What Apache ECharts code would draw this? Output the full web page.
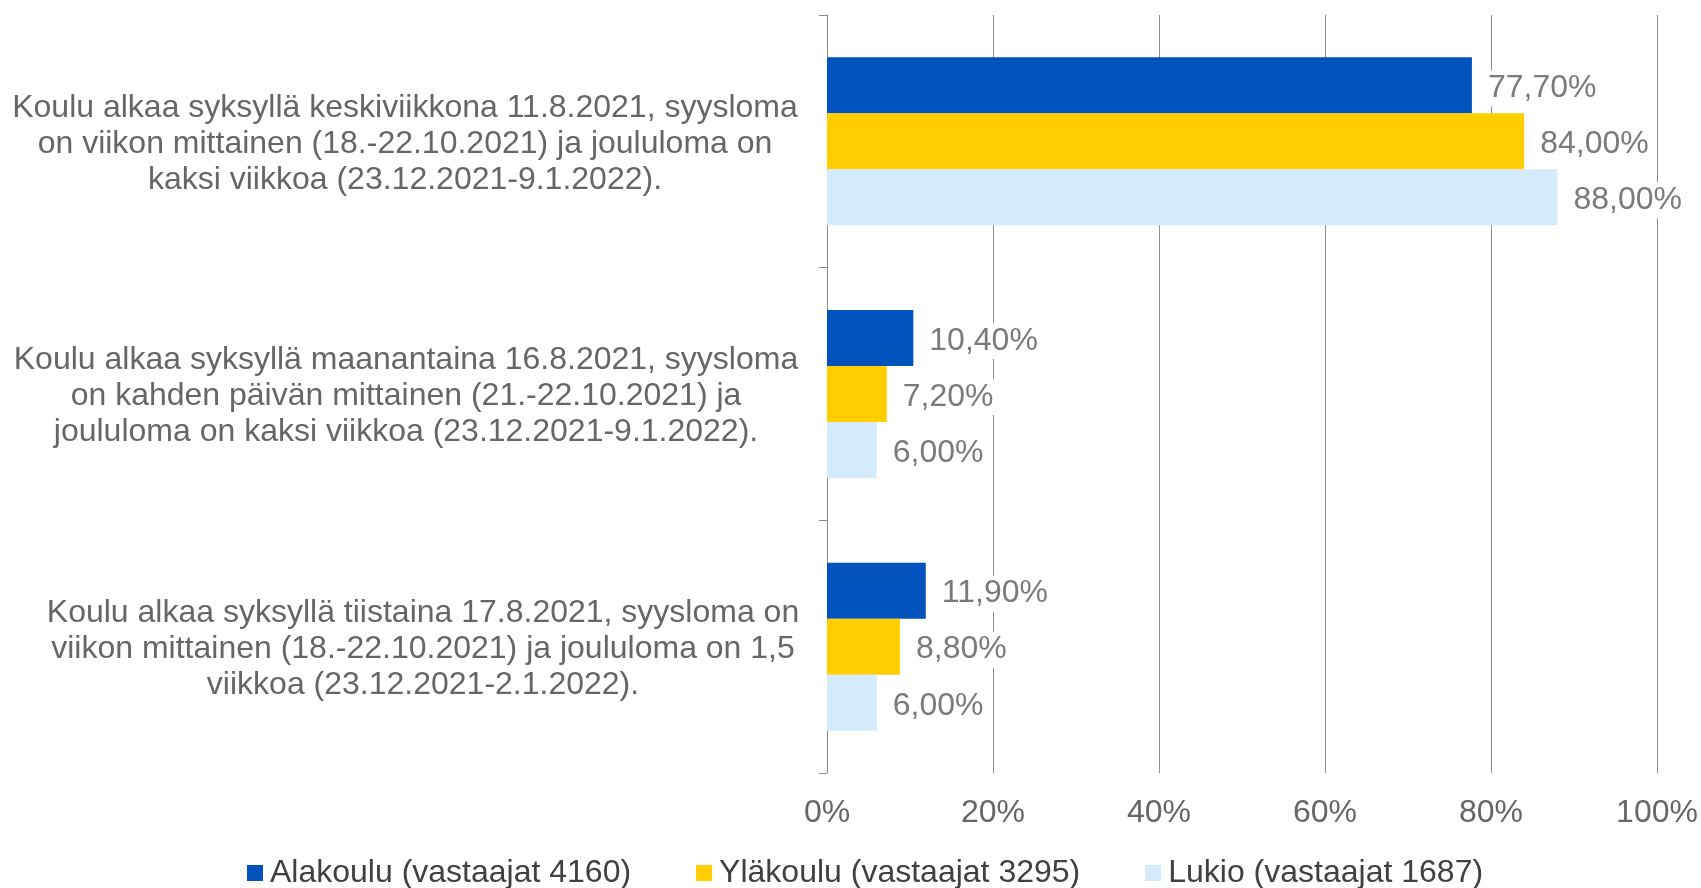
<!DOCTYPE html>
<html><head><meta charset="utf-8">
<script src="https://cdn.jsdelivr.net/npm/echarts@6/dist/echarts.min.js"></script>
<style>html,body{margin:0;padding:0;background:#fff}#c{width:1701px;height:888px}</style>
</head><body><div id="c"></div>
<script>
const categories = [
  "Koulu alkaa syksyllä keskiviikkona 11.8.2021, syysloma\non viikon mittainen (18.-22.10.2021) ja joululoma on\nkaksi viikkoa (23.12.2021-9.1.2022).",
  "Koulu alkaa syksyllä maanantaina 16.8.2021, syysloma\non kahden päivän mittainen (21.-22.10.2021) ja\njoululoma on kaksi viikkoa (23.12.2021-9.1.2022).",
  "Koulu alkaa syksyllä tiistaina 17.8.2021, syysloma on\nviikon mittainen (18.-22.10.2021) ja joululoma on 1,5\nviikkoa (23.12.2021-2.1.2022)."
];
const seriesNames = ["Alakoulu (vastaajat 4160)", "Yläkoulu (vastaajat 3295)", "Lukio (vastaajat 1687)"];
const alakoulu = [77.7, 10.4, 11.9];
const ylakoulu = [84.0, 7.2, 8.8];
const lukio = [88.0, 6.0, 6.0];
const xTicks = [0, 20, 40, 60, 80, 100];
const colors = ["#0052BC", "#FFCD00", "#D4EAFD"];

const font = "'Liberation Sans', Arial, sans-serif";
const chart = echarts.init(document.getElementById('c'), null, {renderer: 'canvas'});
const mk = (name, data, color) => ({
  name, type: 'bar', data, barGap: '0%', barCategoryGap: '33.5%',
  itemStyle: {color},
  label: {
    show: true, position: 'right', distance: 12, offset: [0, 3],
    formatter: p => p.value.toFixed(2).replace('.', ',') + '%',
    fontFamily: font, fontSize: 32, color: '#7a7a7a',
    backgroundColor: '#fff', padding: [2, 4, 2, 4]
  }
});
const catStyleKeys = ['c0', 'c1', 'c2'];
const labelRich = {
  c0: {fontFamily: font, fontSize: 32, color: '#666', lineHeight: 36, padding: [0, 0, 0, 0]},
  c1: {fontFamily: font, fontSize: 32, color: '#666', lineHeight: 36, padding: [0, 0, 0, 2]},
  c2: {fontFamily: font, fontSize: 32, color: '#666', lineHeight: 36, padding: [0, 0, 0, 36]}
};
chart.setOption({
  animation: false,
  color: colors,
  grid: {left: 827, right: 44, top: 15, bottom: 115, containLabel: false},
  legend: {
    left: 242, top: 852, itemWidth: 16, itemHeight: 16, itemGap: 65,
    icon: 'rect',
    textStyle: {fontFamily: font, fontSize: 32, color: '#404040', padding: [0, 0, 0, 2]},
    data: seriesNames
  },
  xAxis: {
    type: 'value', min: 0, max: 100, interval: 20,
    axisLine: {show: false}, axisTick: {show: false},
    splitLine: {lineStyle: {color: '#8c8c8c', width: 1}},
    axisLabel: {
      formatter: v => xTicks.includes(v) ? v + '%' : '',
      fontFamily: font, fontSize: 32, color: '#666', margin: 24
    }
  },
  yAxis: {
    type: 'category', data: categories, inverse: true,
    axisLine: {show: true, lineStyle: {color: '#8c8c8c', width: 1}},
    axisTick: {show: true, length: 8, lineStyle: {color: '#8c8c8c'}},
    axisLabel: {
      fontFamily: font, fontSize: 32, color: '#666', align: 'center',
      margin: 422, lineHeight: 36, padding: [5, 0, 0, 0],
      formatter: (v, i) => v.split('\n').map(l => '{' + catStyleKeys[i] + '|' + l + '}').join('\n'),
      rich: labelRich
    }
  },
  series: [
    mk(seriesNames[0], alakoulu, colors[0]),
    mk(seriesNames[1], ylakoulu, colors[1]),
    mk(seriesNames[2], lukio, colors[2])
  ]
});
</script></body></html>
